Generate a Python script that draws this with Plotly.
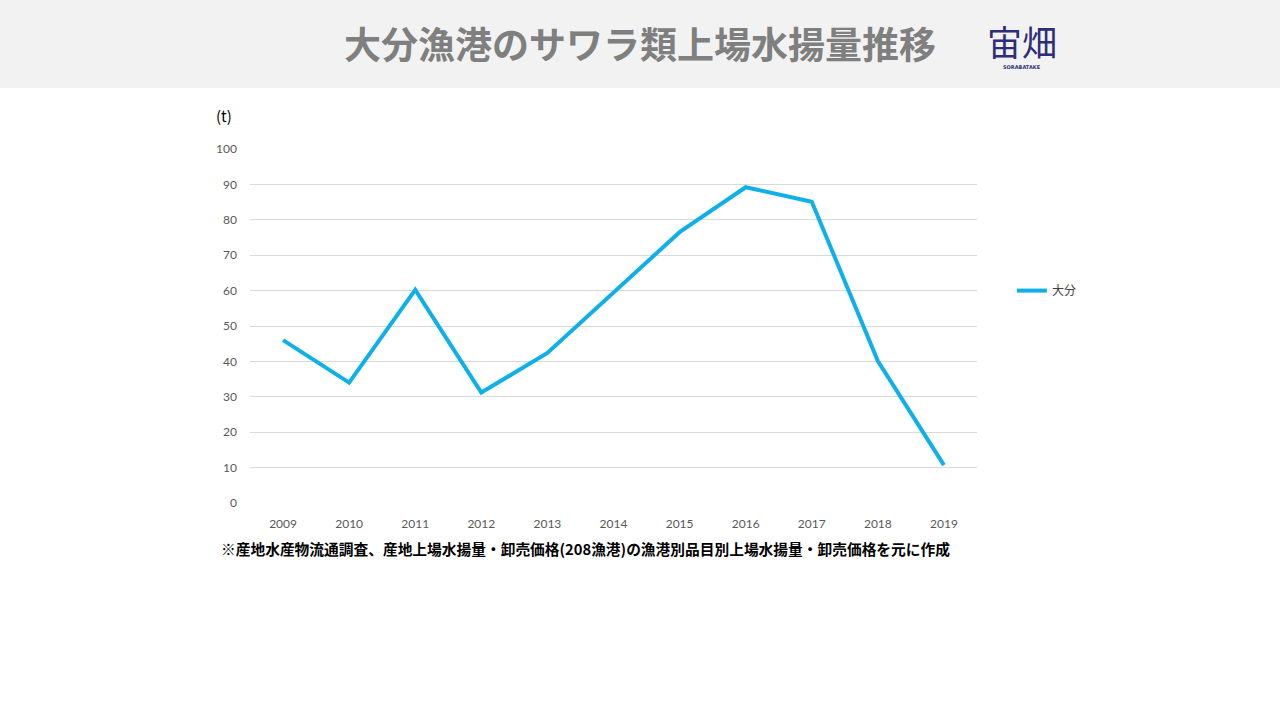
import plotly.graph_objects as go

# Data
years = ['2009', '2010', '2011', '2012', '2013', '2014', '2015', '2016', '2017', '2018', '2019']
oita = [46, 34, 60.2, 31.2, 42.4, 59.3, 76.5, 89.2, 85.1, 40.1, 10.7]
y_ticks = [0, 10, 20, 30, 40, 50, 60, 70, 80, 90, 100]

title_text = '大分漁港のサワラ類上場水揚量推移'
note_text = '※産地水産物流通調査、産地上場水揚量・卸売価格(208漁港)の漁港別品目別上場水揚量・卸売価格を元に作成'

jp_font = 'Noto Sans CJK JP'

fig = go.Figure()
fig.add_trace(go.Scatter(x=years, y=oita, mode='lines', name='大分',
                         line=dict(color='#0fb0ea', width=4)))

fig.update_layout(
    width=1280, height=720,
    margin=dict(l=250, r=303, t=149, b=217),
    plot_bgcolor='#ffffff', paper_bgcolor='#ffffff',
    font=dict(family='Lato, ' + jp_font, size=12, color='#595959'),
    showlegend=True,
    legend=dict(x=1.048, y=0.6, xanchor='left', yanchor='middle',
                font=dict(family=jp_font, size=12, color='#404040'),
                itemwidth=30, bgcolor='rgba(0,0,0,0)'),
    xaxis=dict(type='category', range=[-0.5, 10.5], showgrid=False, zeroline=False,
               showline=False, ticks='', ticklabelstandoff=12,
               tickfont=dict(size=12, color='#595959')),
    yaxis=dict(range=[0, 100], tickvals=y_ticks, showgrid=True, gridcolor='#d9d9d9',
               gridwidth=1, zeroline=False, showline=False, ticks='',
               ticklabelstandoff=12, tickfont=dict(size=12, color='#595959')),
    shapes=[dict(type='rect', xref='paper', yref='paper', x0=-250 / 727, x1=1 + 303 / 727,
                 y0=1 + (149 - 88) / 354, y1=1 + 149 / 354, line=dict(width=0),
                 fillcolor='#f2f2f2', layer='below')],
)

fig.add_annotation(text='<b>' + title_text + '</b>', xref='paper', yref='paper',
                   x=(640 - 250) / 727, y=1 + (149 - 43) / 354, showarrow=False,
                   xanchor='center', yanchor='middle',
                   font=dict(family=jp_font, size=37, color='#7f7f7f'))
# logo
fig.add_annotation(text='宙畑', xref='paper', yref='paper',
                   x=(1022 - 250) / 727, y=1 + (149 - 40) / 354, showarrow=False,
                   xanchor='center', yanchor='middle',
                   font=dict(family=jp_font, size=35, color='#2e2d7c'))
fig.add_annotation(text='<b>SORABATAKE</b>', xref='paper', yref='paper',
                   x=(1022 - 250) / 727, y=1 + (149 - 67) / 354, showarrow=False,
                   xanchor='center', yanchor='middle',
                   font=dict(family='DejaVu Sans', size=5, color='#2e2d7c'))
fig.add_annotation(text='(t)', xref='paper', yref='paper',
                   x=(214 - 250) / 727, y=1 + (149 - 115) / 354, showarrow=False,
                   xanchor='left', yanchor='middle',
                   font=dict(family=jp_font, size=15, color='#000000'))
fig.add_annotation(text='<b>' + note_text + '</b>', xref='paper', yref='paper',
                   x=(219 - 250) / 727, y=-(548 - 503) / 354, showarrow=False,
                   xanchor='left', yanchor='middle',
                   font=dict(family=jp_font, size=14.72, color='#000000'))

fig.write_html('out.html', config={'displayModeBar': False},
               post_script="document.body.style.margin='0';")
